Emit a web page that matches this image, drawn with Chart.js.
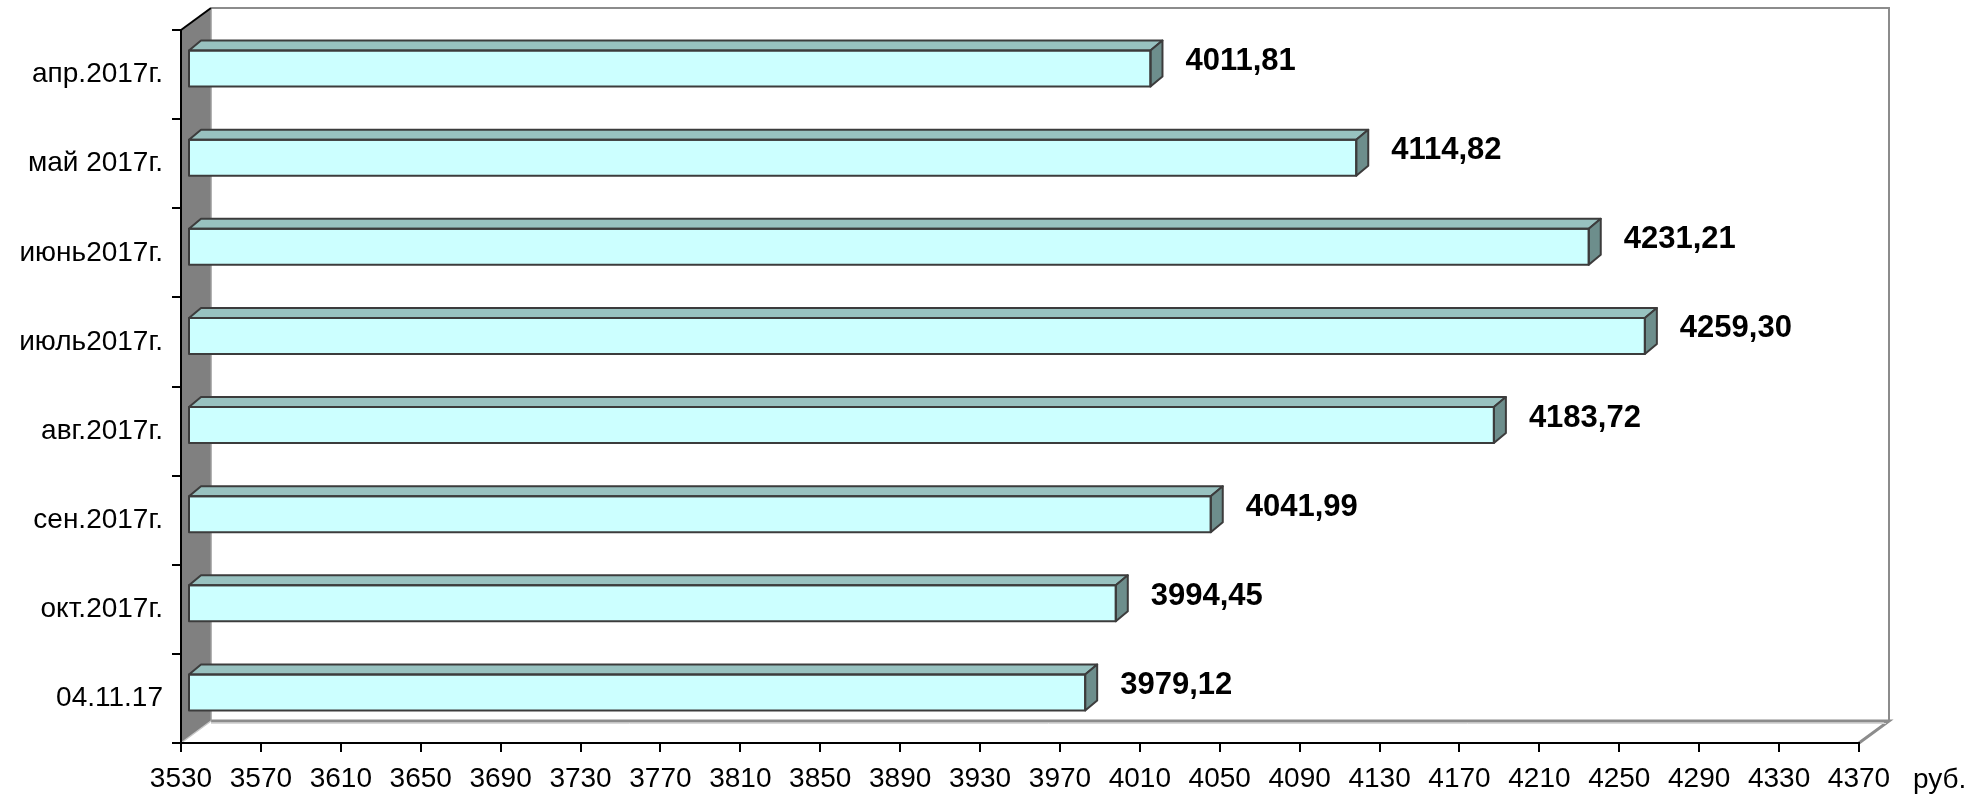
<!DOCTYPE html>
<html>
<head>
<meta charset="utf-8">
<script src="https://cdn.jsdelivr.net/npm/chart.js@4"></script>
<style>
html,body{margin:0;padding:0;background:#fff;}
#wrap{width:1981px;height:797px;}
</style>
</head>
<body>
<div id="wrap"><canvas id="c" width="1981" height="797"></canvas></div>
<script>
const categories = ['апр.2017г.', 'май 2017г.', 'июнь2017г.', 'июль2017г.', 'авг.2017г.', 'сен.2017г.', 'окт.2017г.', '04.11.17'];
const values = [4011.81, 4114.82, 4231.21, 4259.30, 4183.72, 4041.99, 3994.45, 3979.12];
const axisMin = 3530;
const axisMax = 4370;
const axisStep = 40;
const unitLabel = 'руб.';

const FONT = "'Liberation Sans', Arial, sans-serif";
const WALL_DX = 30, WALL_DY = 22;   // depth of walls
const BAR_SHIFT_X = 7, BAR_SHIFT_Y = -6; // bar plane offset
const BAR_DX = 12, BAR_DY = 10;     // bar depth

const walls = {
  id: 'walls',
  beforeDraw(chart) {
    const ctx = chart.ctx, a = chart.chartArea;
    const L = a.left, R = a.right, T = a.top, B = a.bottom;
    ctx.save();
    ctx.fillStyle = '#ffffff';
    ctx.fillRect(L + WALL_DX, T - WALL_DY, R - L, B - T);
    ctx.strokeStyle = '#8c8c8c';
    ctx.lineWidth = 2;
    ctx.beginPath();
    ctx.moveTo(L + WALL_DX, T - WALL_DY);
    ctx.lineTo(R + WALL_DX, T - WALL_DY);
    ctx.lineTo(R + WALL_DX, B - WALL_DY);
    ctx.stroke();
    ctx.strokeStyle = '#8c8c8c';
    ctx.lineWidth = 3;
    ctx.beginPath();
    ctx.moveTo(L + WALL_DX, B - WALL_DY);
    ctx.lineTo(R + WALL_DX, B - WALL_DY);
    ctx.lineTo(R, B);
    ctx.stroke();
    ctx.strokeStyle = '#d8d8d8';
    ctx.lineWidth = 1;
    ctx.beginPath();
    ctx.moveTo(L + WALL_DX, B - WALL_DY + 2.5);
    ctx.lineTo(R + WALL_DX - 3, B - WALL_DY + 2.5);
    ctx.stroke();
    ctx.fillStyle = '#808080';
    ctx.beginPath();
    ctx.moveTo(L, T);
    ctx.lineTo(L + WALL_DX, T - WALL_DY);
    ctx.lineTo(L + WALL_DX, B - WALL_DY);
    ctx.lineTo(L, B);
    ctx.closePath();
    ctx.fill();
    ctx.strokeStyle = '#9a9a9a';
    ctx.lineWidth = 1.5;
    ctx.beginPath();
    ctx.moveTo(L + WALL_DX, T - WALL_DY);
    ctx.lineTo(L + WALL_DX, B - WALL_DY);
    ctx.stroke();
    ctx.strokeStyle = '#c8c8c8';
    ctx.beginPath();
    ctx.moveTo(L, B);
    ctx.lineTo(L + WALL_DX, B - WALL_DY);
    ctx.stroke();
    ctx.strokeStyle = '#000';
    ctx.lineWidth = 2;
    ctx.beginPath();
    ctx.moveTo(L, T);
    ctx.lineTo(L + WALL_DX, T - WALL_DY);
    ctx.stroke();
    ctx.restore();
  }
};

const bars3d = {
  id: 'bars3d',
  beforeDatasetsDraw(chart) {
    chart.ctx.save();
    chart.ctx.translate(BAR_SHIFT_X, BAR_SHIFT_Y);
  },
  afterDatasetsDraw(chart) {
    const ctx = chart.ctx;
    const meta = chart.getDatasetMeta(0);
    ctx.lineWidth = 2;
    ctx.strokeStyle = '#3c3c3c';
    ctx.lineJoin = 'round';
    meta.data.forEach((el) => {
      const p = el.getProps(['x', 'y', 'base', 'height'], true);
      const left = p.base, right = p.x;
      const top = p.y - p.height / 2, bottom = p.y + p.height / 2;
      ctx.fillStyle = '#98c2c0';
      ctx.beginPath();
      ctx.moveTo(left, top);
      ctx.lineTo(left + BAR_DX, top - BAR_DY);
      ctx.lineTo(right + BAR_DX, top - BAR_DY);
      ctx.lineTo(right, top);
      ctx.closePath();
      ctx.fill();
      ctx.stroke();
      ctx.fillStyle = '#6d8e8c';
      ctx.beginPath();
      ctx.moveTo(right, top);
      ctx.lineTo(right + BAR_DX, top - BAR_DY);
      ctx.lineTo(right + BAR_DX, bottom - BAR_DY);
      ctx.lineTo(right, bottom);
      ctx.closePath();
      ctx.fill();
      ctx.stroke();
      ctx.strokeRect(left, top, right - left, bottom - top);
    });
    ctx.restore();
    ctx.save();
    ctx.fillStyle = '#000';
    ctx.font = 'bold 31px ' + FONT;
    ctx.textAlign = 'left';
    ctx.textBaseline = 'middle';
    meta.data.forEach((el, i) => {
      const p = el.getProps(['x', 'y'], true);
      ctx.fillText(values[i].toFixed(2).replace('.', ','), p.x + BAR_SHIFT_X + 35, p.y - 13);
    });
    ctx.restore();
  },
  afterDraw(chart) {
    const ctx = chart.ctx, xs = chart.scales.x;
    ctx.save();
    ctx.fillStyle = '#000';
    ctx.font = '28px ' + FONT;
    ctx.textAlign = 'left';
    ctx.textBaseline = 'middle';
    ctx.fillText(unitLabel, xs.right + 54, 780);
    ctx.restore();
  }
};

new Chart(document.getElementById('c'), {
  type: 'bar',
  data: {
    labels: categories,
    datasets: [{
      data: values,
      base: axisMin,
      backgroundColor: '#ccffff',
      borderWidth: 0,
      categoryPercentage: 1,
      barPercentage: 0.404,
      clip: false
    }]
  },
  options: {
    indexAxis: 'y',
    responsive: false,
    animation: false,
    events: [],
    layout: { padding: { left: 0, top: 30, right: 122, bottom: 0 } },
    plugins: { legend: { display: false }, tooltip: { enabled: false } },
    scales: {
      x: {
        min: axisMin,
        max: axisMax,
        afterFit(s) { s.height = 54; },
        ticks: {
          stepSize: axisStep,
          autoSkip: false,
          maxRotation: 0,
          color: '#000',
          font: { family: FONT, size: 28 },
          padding: 10,
          callback: (v) => String(v)
        },
        grid: { drawOnChartArea: false, drawTicks: true, tickLength: 9, color: '#000', lineWidth: 2 },
        border: { display: true, color: '#000', width: 2 }
      },
      y: {
        afterFit(s) { s.width = 181; },
        ticks: {
          color: '#000',
          font: { family: FONT, size: 28 },
          padding: 9
        },
        grid: { drawOnChartArea: false, drawTicks: true, tickLength: 9, color: '#000', lineWidth: 2, offset: true },
        border: { display: true, color: '#000', width: 2 }
      }
    }
  },
  plugins: [walls, bars3d]
});
</script>
</body>
</html>
